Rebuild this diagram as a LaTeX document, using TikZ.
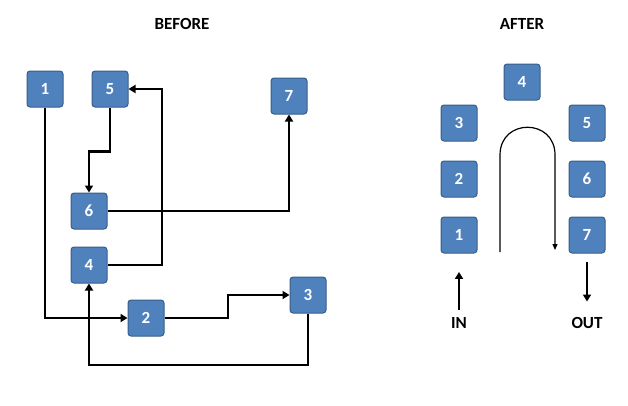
\documentclass[tikz,border=0pt]{standalone}
\usepackage{fontspec}
\setmainfont{Carlito}
\usetikzlibrary{positioning,arrows.meta}
\definecolor{boxblue}{HTML}{4F81BD}
\definecolor{boxline}{HTML}{385D8A}
\tikzset{
  box/.style={draw=boxline, fill=boxblue, rounded corners=3pt, minimum size=36pt,
    inner sep=0pt, text=white, font=\fontsize{17}{17}\selectfont\bfseries, line width=1pt},
  title/.style={font=\fontsize{17}{17}\selectfont\bfseries},
  wire/.style={line width=2.4pt, -{Triangle[length=7pt,width=8pt]}}
}
\begin{document}
\begin{tikzpicture}[x=1pt, y=-1pt]
\useasboundingbox (0,0) rectangle (628,405);
% before
\node[title] (tb) at (182,24) {BEFORE};
\node[box] (b1) at (45,89) {1};
\node[box] (b5) at (110,89) {5};
\node[box] (b7) at (289,96) {7};
\node[box] (b6) at (89,211) {6};
\node[box] (b4) at (89,265) {4};
\node[box] (b2) at (146,318) {2};
\node[box] (b3) at (308,295) {3};
\draw[wire] (b1.south) |- (b2.west);
\draw[wire] (b5.south) -- ++(0,44) -| (b6.north);
\draw[wire] (b4.east) -| (162,89) -- (b5.east);
\draw[wire] (b6.east) -| (b7.south);
\draw[wire] (b2.east) -| (228,295) -- (b3.west);
\draw[wire] (b3.south) |- (89,365) -- (b4.south);
% after
\node[title] (ta) at (522,24) {AFTER};
\node[box] (a4) at (522,82) {4};
\node[box] (a3) at (459,123) {3};
\node[box] (a5) at (587,123) {5};
\node[box] (a2) at (459,179) {2};
\node[box] (a6) at (587,179) {6};
\node[box] (a1) at (459,235) {1};
\node[box] (a7) at (587,235) {7};
\node[title] (in) at (459,323) {IN};
\node[title] (out) at (587,323) {OUT};
\draw[wire] (in.north) ++(0,-4) -- ++(0,-38);
\draw[wire] (a7.south) ++(0,8) -- ++(0,40);
\coordinate (ua) at (500,252);
\coordinate (ub) at (555,250);
\draw[line width=1.2pt, -{Triangle[length=6pt,width=5pt]}]
  (ua) -- (500,155) .. controls (500,118) and (555,118) .. (555,155) -- (ub);
\end{tikzpicture}
\end{document}
